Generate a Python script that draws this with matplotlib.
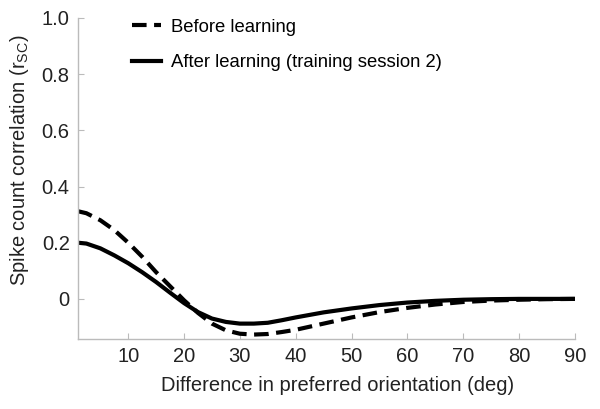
import matplotlib.pyplot as plt

plt.rcParams["font.family"] = ["Liberation Sans", "DejaVu Sans"]
plt.rcParams["mathtext.fontset"] = "custom"
plt.rcParams["mathtext.rm"] = "Liberation Sans"
plt.rcParams["mathtext.it"] = "Liberation Sans"

orientation = [1, 2.5, 5, 7.5, 10, 12.5, 15, 17.5, 20, 22.5, 25, 27.5, 30, 32.5,
               35, 37.5, 40, 45, 50, 55, 60, 65, 70, 75, 80, 85, 90]
before = [0.312, 0.305, 0.28, 0.245, 0.20, 0.15, 0.095, 0.045, -0.005, -0.05,
          -0.088, -0.112, -0.124, -0.127, -0.125, -0.118, -0.11, -0.088, -0.066,
          -0.047, -0.032, -0.02, -0.011, -0.006, -0.003, -0.001, 0.0]
after = [0.20, 0.197, 0.18, 0.155, 0.127, 0.095, 0.06, 0.022, -0.015, -0.047,
         -0.07, -0.082, -0.088, -0.088, -0.085, -0.076, -0.066, -0.048, -0.034,
         -0.022, -0.013, -0.007, -0.003, -0.001, 0.0, 0.0, 0.0]

x_ticks = [10, 20, 30, 40, 50, 60, 70, 80, 90]
y_ticks = [0, 0.2, 0.4, 0.6, 0.8, 1.0]
y_ticklabels = ["0", "0.2", "0.4", "0.6", "0.8", "1.0"]

fig = plt.figure(figsize=(6.0, 4.09), dpi=100)
ax = fig.add_axes([0.13, 0.171, 0.828, 0.785])

ax.plot(orientation, before, color="black", lw=3, linestyle=(0, (3.5, 1.8)),
        label="Before learning")
ax.plot(orientation, after, color="black", lw=3, label="After learning (training session 2)")

ax.set_xlim(1, 90)
ax.set_ylim(-0.143, 1.0)
ax.set_xticks(x_ticks)
ax.set_yticks(y_ticks)
ax.set_yticklabels(y_ticklabels)

for side in ["top", "right"]:
    ax.spines[side].set_visible(False)
for side in ["left", "bottom"]:
    ax.spines[side].set_color("#bbbbbb")
    ax.spines[side].set_linewidth(1)

ax.tick_params(direction="in", length=4, color="#bbbbbb", labelsize=14.5,
               labelcolor="#222222", pad=6)

ax.set_xlabel("Difference in preferred orientation (deg)", fontsize=14.5,
              color="#222222")
ax.set_ylabel("Spike count correlation (r$_{\\rm SC}$)", fontsize=14.5,
              color="#222222")
ax.xaxis.set_label_coords(0.523, -0.115)
ax.yaxis.set_label_coords(-0.095, 0.558)

ax.legend(loc="upper left", bbox_to_anchor=(0.075, 1.05), frameon=False,
          fontsize=13.3, handlelength=1.6, labelspacing=1.0, handletextpad=0.5)

fig.savefig("out.png", dpi=100)
